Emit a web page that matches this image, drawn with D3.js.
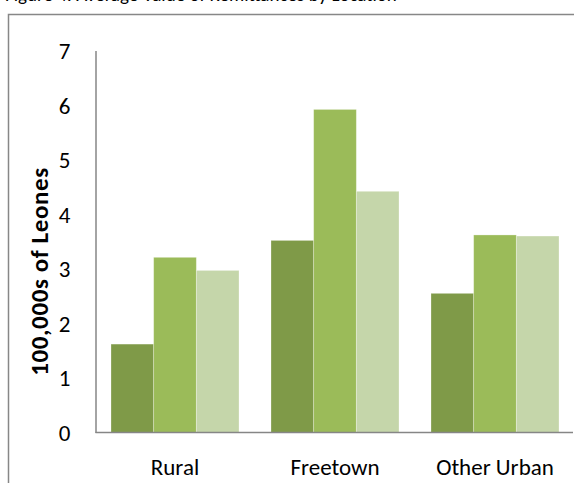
<!DOCTYPE html>
<html>
<head>
<meta charset="utf-8">
<script src="https://cdn.jsdelivr.net/npm/d3@7"></script>
<style>
  html, body { margin: 0; padding: 0; background: #fff; overflow: hidden; }
  svg { display: block; font-family: Carlito, Lato, "Open Sans", sans-serif; }
</style>
</head>
<body>
<svg id="chart" width="574" height="483"></svg>
<script>
const categories = ["Rural", "Freetown", "Other Urban"];
const seriesNames = ["Series A", "Series B", "Series C"];
const seriesA = [1.62, 3.52, 2.55];
const seriesB = [3.21, 5.92, 3.62];
const seriesC = [2.97, 4.42, 3.60];
const colors = ["#7f9a48", "#9bbb59", "#c5d6aa"];
const yTicks = [0, 1, 2, 3, 4, 5, 6, 7];
const yTitle = "100,000s of Leones";
const chartTitle = "Figure 4: Average Value of Remittances by Location";

const FONT = "Carlito, Lato, 'Open Sans', sans-serif";
const svg = d3.select("#chart");

// partially visible title at top (cut off in reference)
svg.append("text").attr("x", 5).attr("y", 0.5)
  .attr("font-size", 19).attr("fill", "#000").text(chartTitle);

// outer frame
svg.append("path")
  .attr("d", "M8.5,483 L8.5,14.5 L574,14.5")
  .attr("fill", "none").attr("stroke", "#878787").attr("stroke-width", 1.5);

const x = d3.scaleBand().domain(categories).range([95, 575]).padding(0);
const sub = d3.scaleBand().domain(seriesNames).range([16, 144]).padding(0);
const y = d3.scaleLinear().domain([0, 7]).range([432.5, 50.5]);

const series = [seriesA, seriesB, seriesC];
const rows = [];
categories.forEach((c, i) => series.forEach((s, j) => rows.push({c, name: seriesNames[j], v: s[i], j})));

svg.append("g").selectAll("rect").data(rows).join("rect")
  .attr("x", d => x(d.c) + sub(d.name))
  .attr("y", d => y(d.v))
  .attr("width", sub.bandwidth())
  .attr("height", d => y(0) - y(d.v))
  .attr("fill", d => colors[d.j])
  .attr("stroke", "rgba(255,255,255,0.35)")
  .attr("stroke-width", 0.8);

// y axis
const yAxis = svg.append("g").attr("transform", "translate(95.5,0)")
  .call(d3.axisLeft(y).tickValues(yTicks).tickSize(0).tickPadding(25).tickFormat(d3.format("d")));
yAxis.select(".domain").attr("stroke", "#868686").attr("stroke-width", 1.5);
yAxis.selectAll("text").attr("font-size", 23).attr("fill", "#000")
  .attr("font-family", FONT).attr("dy", "0.35em");

// x axis
const xAxis = svg.append("g").attr("transform", "translate(0,432.5)")
  .call(d3.axisBottom(x).tickSize(0));
xAxis.select(".domain").attr("stroke", "#868686").attr("stroke-width", 1.5)
  .attr("d", "M95.5,0H573");
xAxis.selectAll("text").attr("font-size", 23).attr("fill", "#000")
  .attr("font-family", FONT).attr("y", 42.5).attr("dy", 0);

// y title
svg.append("text")
  .attr("transform", "translate(48,271.5) rotate(-90)")
  .attr("text-anchor", "middle")
  .attr("font-size", 25).attr("font-weight", "bold").attr("fill", "#000")
  .attr("font-family", FONT)
  .attr("letter-spacing", 0.6)
  .text(yTitle);
</script>
</body>
</html>
